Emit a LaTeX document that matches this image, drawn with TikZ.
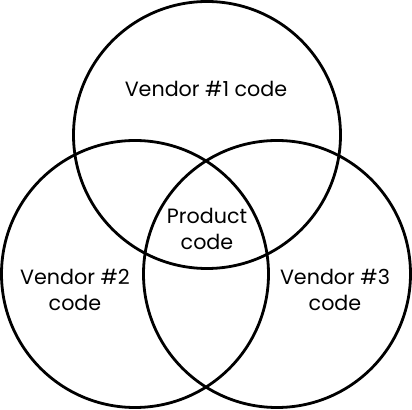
\documentclass[tikz,border=0pt]{standalone}
\usepackage{fontspec}
\setmainfont{Poppins}
\begin{document}
\begin{tikzpicture}[x=0.75pt, y=-0.75pt]
		\useasboundingbox (0, 0) rectangle (412, 410);
		\tikzset{ring/.style={line width=2.1pt}, label/.style={align=center, font=\fontsize{15.5}{20}\selectfont, inner sep=0pt}}

		\draw[ring] (207, 135) circle[radius=133.5];
		\draw[ring] (135, 274) circle[radius=133.5];
		\draw[ring] (277, 274) circle[radius=133.5];

		\node[label] (vendorone) at (206, 89) {Vendor \#1 code};
		\node[label] (product) at (207, 229) {Product\\code};
		\node[label] (vendortwo) at (75, 290) {Vendor \#2\\code};
		\node[label] (vendorthree) at (335, 290) {Vendor \#3\\code};
	\end{tikzpicture}
\end{document}
